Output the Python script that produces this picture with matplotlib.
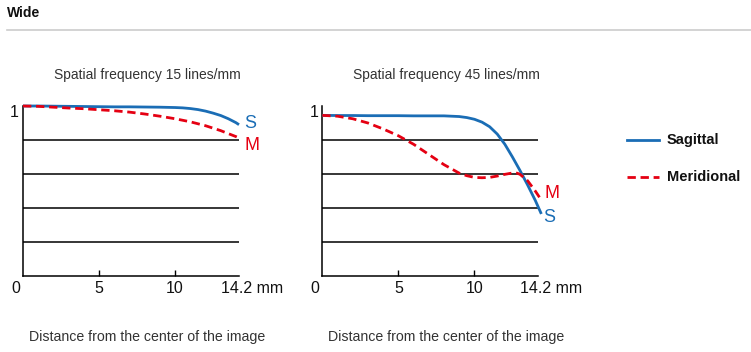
import numpy as np
import matplotlib
matplotlib.use('Agg')
from matplotlib import pyplot as plt

plt.rcParams['font.family'] = ['Liberation Sans', 'DejaVu Sans']

# image height (mm) and MTF samples
x15 = [0, 1, 2, 3, 4, 5, 6, 7, 8, 9, 10, 10.5, 11, 11.5, 12, 12.5, 13, 13.5, 14, 14.2]
s15 = [1.0, 1.0, 0.999, 0.998, 0.997, 0.996, 0.995, 0.995, 0.994, 0.993, 0.991,
       0.989, 0.985, 0.979, 0.97, 0.958, 0.944, 0.925, 0.902, 0.89]
xm15 = [0, 1, 2, 3, 4, 5, 6, 7, 8, 9, 10, 11, 12, 13, 14, 14.2]
m15 = [1.0, 0.998, 0.993, 0.988, 0.984, 0.978, 0.972, 0.964, 0.953, 0.94, 0.925,
       0.907, 0.884, 0.855, 0.82, 0.812]

xs45 = [0, 1, 2, 3, 4, 5, 6, 7, 8, 9, 9.5, 10, 10.5, 11, 11.5, 12, 12.5, 13, 13.5, 14, 14.4]
s45 = [0.945, 0.944, 0.944, 0.943, 0.943, 0.943, 0.942, 0.942, 0.942, 0.938, 0.932,
       0.922, 0.905, 0.878, 0.835, 0.775, 0.70, 0.62, 0.535, 0.445, 0.365]
xm45 = [0, 1, 2, 3, 4, 5, 6, 7, 8, 9, 9.5, 10, 10.5, 11, 11.5, 12, 12.5, 12.8, 13, 13.5, 14, 14.3]
m45 = [0.945, 0.94, 0.925, 0.9, 0.865, 0.825, 0.775, 0.715, 0.655, 0.605, 0.59, 0.58,
       0.578, 0.58, 0.588, 0.598, 0.606, 0.605, 0.598, 0.56, 0.5, 0.46]

titles = ['Spatial frequency 15 lines/mm', 'Spatial frequency 45 lines/mm']
xlabel = 'Distance from the center of the image'
grid_levels = [0.2, 0.4, 0.6, 0.8]
tick_pos = [0, 5, 10]
tick_lab = ['0', '5', '10']
end_lab = '14.2 mm'

blue = '#1a6db5'
red = '#e50012'
W, H = 751, 352

fig = plt.figure(figsize=(W / 100, H / 100), dpi=100)

# header
fig.text(7 / W, 1 - 13 / H, 'Wide', fontsize=10, fontweight='bold', va='center', color='#111111')
fig.add_artist(plt.Line2D([7 / W, 1], [1 - 29.5 / H, 1 - 29.5 / H], color='#cccccc', lw=1.2))

panels = [
    (23, (x15, s15), (xm15, m15), [(14.92, 0.9, 'S', blue), (15.06, 0.77, 'M', red)]),
    (322.3, (xs45, s45), (xm45, m45), [(15.08, 0.488, 'M', red), (14.94, 0.347, 'S', blue)]),
]

for i, (left_px, sag, mer, labels) in enumerate(panels):
    ax = fig.add_axes([left_px / W, 76 / H, 216 / W, 170 / H])
    ax.set_xlim(0, 14.2)
    ax.set_ylim(0, 1.0)
    for g in grid_levels:
        ax.plot([0, 14.2], [g, g], color='black', lw=1.1, zorder=1)
    ax.plot(*sag, color=blue, lw=2.0, zorder=3, clip_on=False, solid_capstyle='butt')
    ax.plot(*mer, color=red, lw=2.0, ls=(0, (3, 1.7)), zorder=4, clip_on=False)
    for lx, ly, t, c in labels:
        ax.text(lx, ly, t, color=c, fontsize=13, ha='center', va='center')
    for sp in ['top', 'right']:
        ax.spines[sp].set_visible(False)
    ax.spines['left'].set_linewidth(1.1)
    ax.spines['bottom'].set_linewidth(1.1)
    ax.set_xticks(tick_pos[1:])
    ax.tick_params(axis='x', direction='in', length=4, width=1, labelbottom=False)
    ax.set_yticks([])
    for p, t in zip(tick_pos, tick_lab):
        xp = p if p > 0 else -0.5
        ax.text(xp, -0.076, t, fontsize=11.5, ha='center', va='center', color='#111111')
    ax.text(13.0, -0.076, end_lab, fontsize=11.5, ha='left', va='center', color='#111111')
    ax.text(-0.55, 0.959, '1', fontsize=11.5, ha='center', va='center', color='#111111')

    cx = left_px + 124
    fig.text(cx / W, 1 - 75 / H, titles[i], fontsize=10, ha='center', va='center', color='#333333')
    fig.text(cx / W, 1 - 337 / H, xlabel, fontsize=10.2, ha='center', va='center', color='#333333')

# legend
fig.add_artist(plt.Line2D([627 / W, 659 / W], [1 - 140 / H, 1 - 140 / H], color=blue, lw=2.0))
fig.add_artist(plt.Line2D([627 / W, 659 / W], [1 - 177 / H, 1 - 177 / H], color=red, lw=2.0,
                          ls=(0, (3, 1.7))))
fig.text(667 / W, 1 - 140 / H, 'Sagittal', fontsize=10.5, fontweight='bold', va='center', color='#111111')
fig.text(667 / W, 1 - 177 / H, 'Meridional', fontsize=10.5, fontweight='bold', va='center', color='#111111')

fig.savefig('out.png', dpi=100, facecolor='white')
